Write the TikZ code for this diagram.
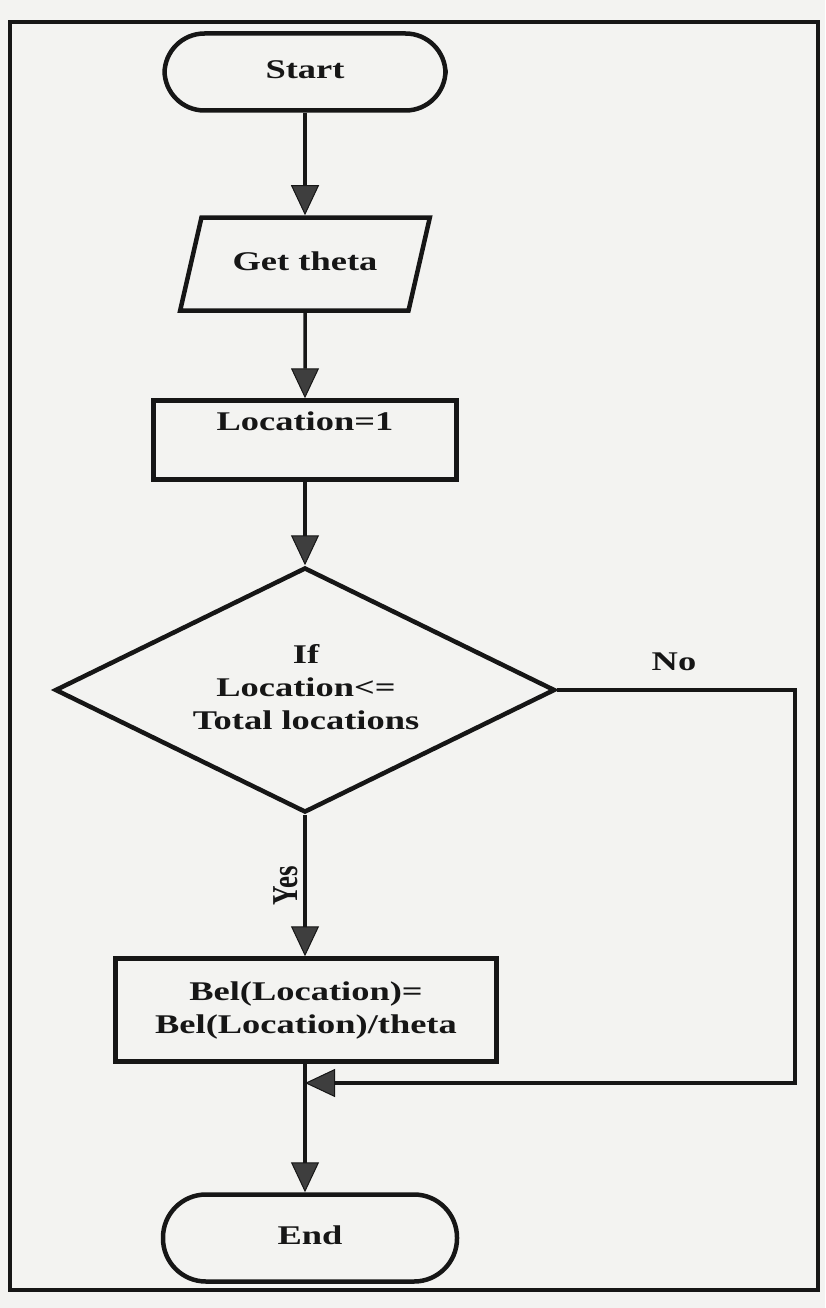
\documentclass[tikz,border=0pt]{standalone}
\usepackage{fontspec}
\setmainfont{Liberation Serif}
\usetikzlibrary{shapes.geometric,arrows.meta}

% bold labels, set a little wider than the font's natural width
\newcommand{\widetext}[1]{\scalebox{1.35}[1]{\begin{tabular}{@{}c@{}}#1\end{tabular}}}

\definecolor{paper}{HTML}{F3F3F1}
\definecolor{ink}{HTML}{161616}
\definecolor{tipfill}{HTML}{3E3E3E}

\begin{document}
\begin{tikzpicture}[x=1pt,y=-1pt,
  every node/.style={font=\fontsize{27}{33}\selectfont\bfseries, text=ink},
  shapeline/.style={draw=ink, line width=4.5pt},
  terminal/.style={shapeline, rectangle, rounded corners=40pt, inner sep=0pt},
  procbox/.style={shapeline, rectangle, inner sep=0pt},
  iobox/.style={shapeline, trapezium, trapezium left angle=65.7,
    trapezium right angle=114.3, trapezium stretches=true, inner sep=0pt},
  decision/.style={shapeline, diamond, inner sep=0pt},
  flow/.style={draw=ink, line width=3.5pt,
    -{Triangle[width=28pt,length=30pt,line width=1pt,fill=tipfill]}},
]
% page and outer frame
\useasboundingbox (0,0) rectangle (825,1308);
\fill[paper] (0,0) rectangle (825,1308);
\draw[ink, line width=3.5pt] (10,22) rectangle (818,1290);

% flowchart nodes
\node[terminal, minimum width=281pt, minimum height=77pt] (start) at (305,72) {\widetext{Start}};
\node[iobox, minimum width=250pt, minimum height=93pt] (theta) at (305,264) {\widetext{Get theta}};
\node[procbox, minimum width=303pt, minimum height=79pt] (loc) at (305,440) {\widetext{Location=1\\ \strut}};
\node[decision, minimum width=500pt, minimum height=245pt] (test) at (305,690) {};
\node (testtext) at (306,690) {\widetext{If\\Location<=\\Total locations}};
\node[procbox, minimum width=381pt, minimum height=103pt] (bel) at (306,1010) {\widetext{Bel(Location)=\\Bel(Location)/theta}};
\node[terminal, minimum width=294pt, minimum height=87pt, rounded corners=43pt] (end) at (310,1238) {\widetext{End}};

% "No" branch route
\coordinate (nocorner) at (795,690);
\coordinate (nodown) at (795,1083);
\coordinate (merge) at (305,1083);

% connectors
\draw[flow] (start) -- (theta);
\draw[flow] (theta) -- (loc);
\draw[flow] (loc) -- (test);
\draw[flow] (test.south -| merge) -- node[midway, left=2pt] {\scalebox{1.35}[1]{\rotatebox{90}{Yes}}} (merge |- bel.north);
\draw[flow] (test.east) -- (nocorner) -- (nodown) -- (merge);
\node (nolabel) at (674,664) {\widetext{No}};
\draw[flow] (bel.south -| merge) -- (merge |- end.north);
\end{tikzpicture}
\end{document}
